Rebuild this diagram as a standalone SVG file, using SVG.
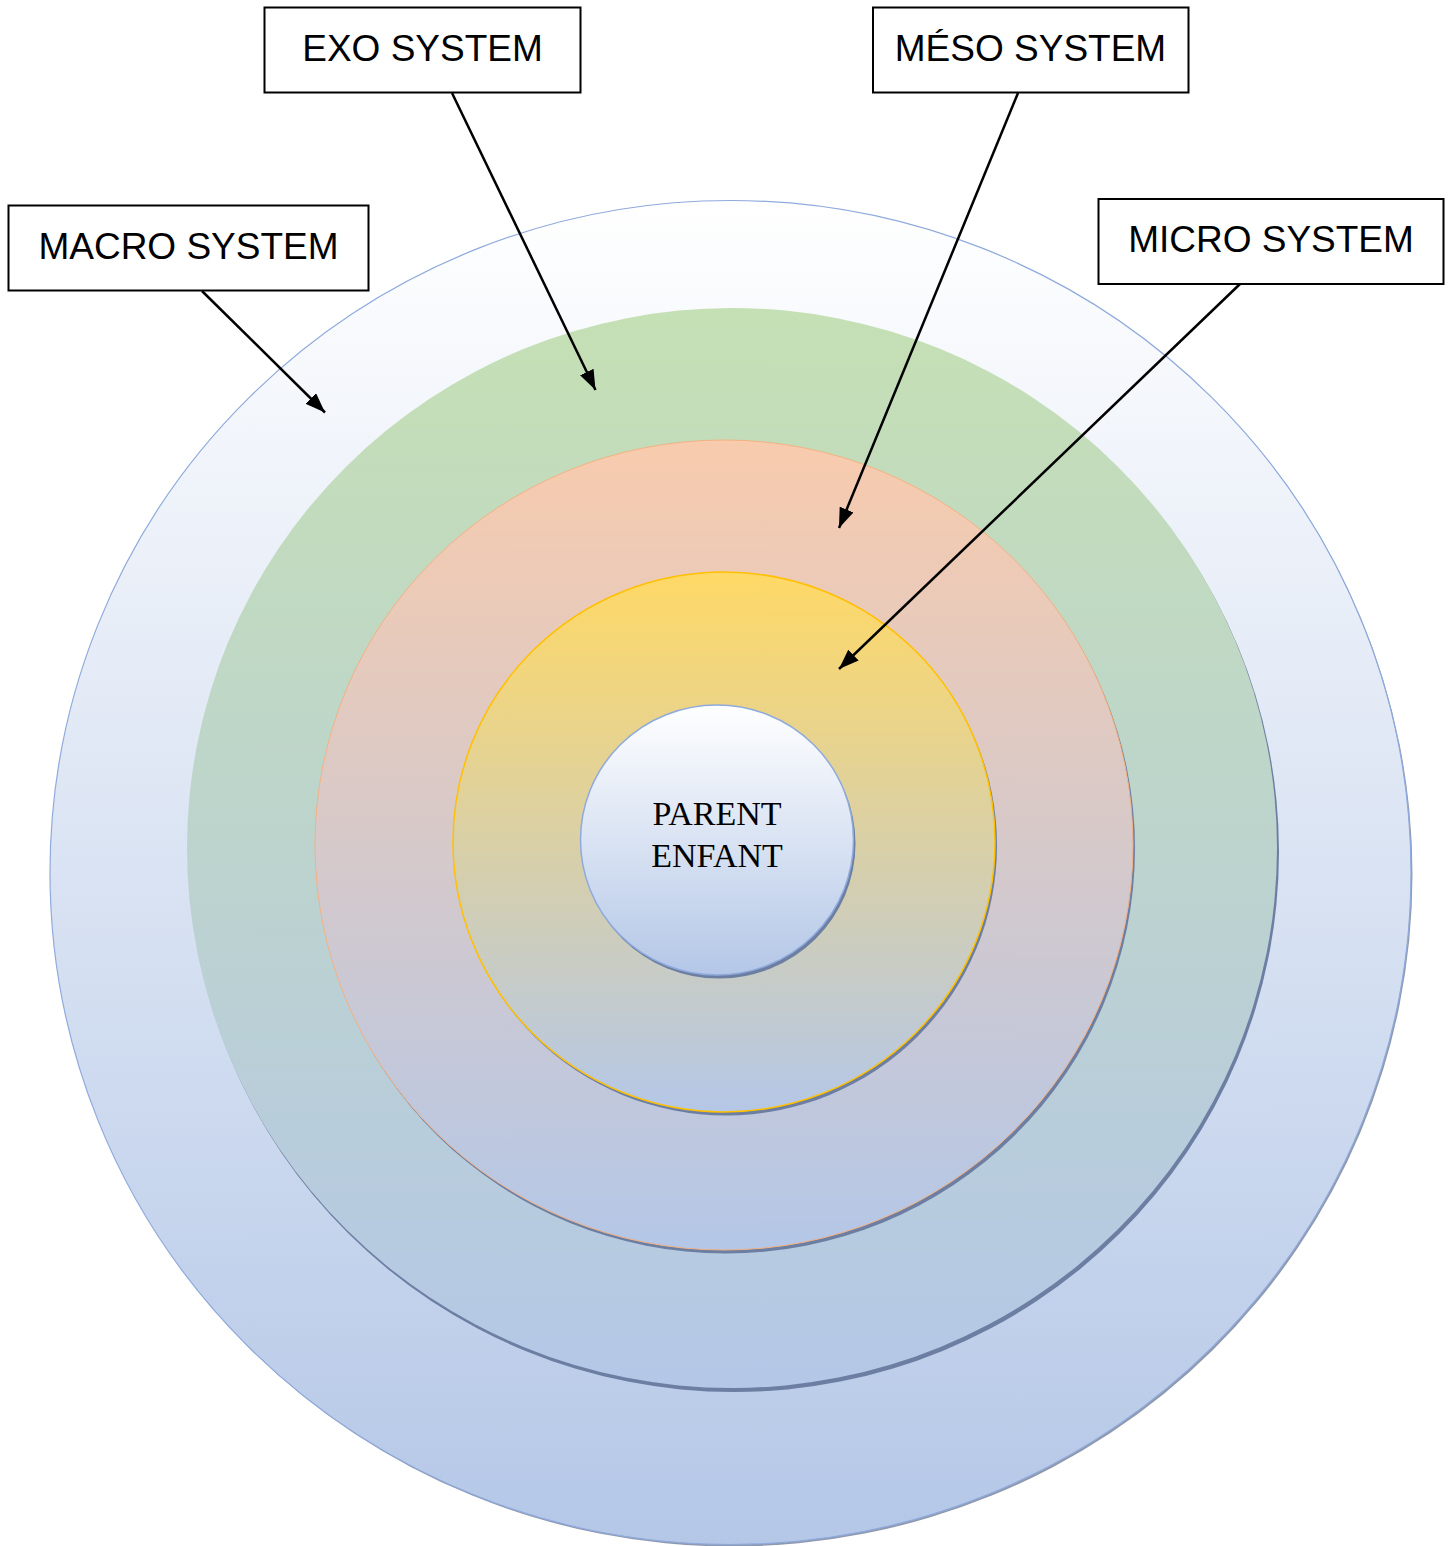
<svg xmlns="http://www.w3.org/2000/svg" width="1453" height="1546" viewBox="0 0 1453 1546">
<defs>
<linearGradient id="gOuter" x1="0" y1="0" x2="0" y2="1"><stop offset="0" stop-color="#FFFFFF"/><stop offset="1" stop-color="#B4C7E7"/></linearGradient>
<linearGradient id="gGreen" x1="0" y1="0" x2="0" y2="1"><stop offset="0" stop-color="#C5E0B4"/><stop offset="1" stop-color="#B4C7E7"/></linearGradient>
<linearGradient id="gOrange" x1="0" y1="0" x2="0" y2="1"><stop offset="0" stop-color="#F8CBAD"/><stop offset="1" stop-color="#B4C7E7"/></linearGradient>
<linearGradient id="gYellow" x1="0" y1="0" x2="0" y2="1"><stop offset="0" stop-color="#FFD966"/><stop offset="1" stop-color="#B4C7E7"/></linearGradient>
<linearGradient id="gInner" x1="0" y1="0" x2="0" y2="1"><stop offset="0" stop-color="#FFFFFF"/><stop offset="1" stop-color="#B4C7E7"/></linearGradient>
<marker id="arrowBig" viewBox="0 0 20 15" refX="20" refY="7.5" markerWidth="20" markerHeight="15" markerUnits="userSpaceOnUse" orient="auto">
<path d="M0,0 L20,7.5 L0,15 z" fill="#000"/>
</marker>
</defs>
<style>
.shadow{fill:#6C7EA2}
.box{fill:#FFFFFF;stroke:#000;stroke-width:2}
.lbl{font-family:"Liberation Sans",Arial,sans-serif;font-size:37px;fill:#000;text-anchor:middle}
.conn{stroke:#000;stroke-width:2.5;fill:none;marker-end:url(#arrowBig)}
.center{font-family:"Liberation Serif","Times New Roman",serif;font-size:34px;fill:#000;text-anchor:middle}
</style>

<g id="macro-ring">
<ellipse cx="732" cy="874.5" rx="680.5" ry="672" fill="#8F99AE"/>
<ellipse cx="730.5" cy="872.5" rx="680.5" ry="672" fill="url(#gOuter)" stroke="#8FAADC" stroke-width="1.2"/>
</g>
<g id="exo-ring">
<ellipse class="shadow" cx="734" cy="852" rx="545" ry="540"/>
<ellipse cx="732" cy="848" rx="545" ry="540" fill="url(#gGreen)"/>
</g>
<g id="meso-ring">
<ellipse class="shadow" cx="726" cy="848.5" rx="409" ry="405"/>
<ellipse cx="724" cy="845" rx="409" ry="405" fill="url(#gOrange)" stroke="#F4B183" stroke-width="1"/>
</g>
<g id="micro-ring">
<ellipse class="shadow" cx="726" cy="845.5" rx="271" ry="270"/>
<ellipse cx="724" cy="842" rx="271" ry="270" fill="url(#gYellow)" stroke="#FFC000" stroke-width="1.5"/>
</g>
<g id="parent-enfant">
<ellipse class="shadow" cx="719" cy="843.5" rx="136.5" ry="135"/>
<ellipse cx="717" cy="840" rx="136.5" ry="135" fill="url(#gInner)" stroke="#8FAADC" stroke-width="1.5"/>
<text class="center" x="717" y="825">PARENT</text>
<text class="center" x="717" y="867">ENFANT</text>
</g>

<g id="connectors">
<line class="conn" x1="202" y1="291" x2="325" y2="412.5"/>
<line class="conn" x1="452" y1="93" x2="595.5" y2="390"/>
<line class="conn" x1="1018" y1="93" x2="839" y2="528"/>
<line class="conn" x1="1240" y1="284" x2="839" y2="669"/>
</g>

<g id="label-macro">
<rect class="box" x="8.5" y="205.5" width="360" height="85"/>
<text class="lbl" x="188.5" y="259">MACRO SYSTEM</text>
</g>
<g id="label-exo">
<rect class="box" x="264.5" y="7.5" width="316" height="85"/>
<text class="lbl" x="422.5" y="61">EXO SYSTEM</text>
</g>
<g id="label-meso">
<rect class="box" x="873" y="7.5" width="315.5" height="85"/>
<text class="lbl" x="1030.5" y="61">MÉSO SYSTEM</text>
</g>
<g id="label-micro">
<rect class="box" x="1098.5" y="199" width="345" height="85"/>
<text class="lbl" x="1271" y="252">MICRO SYSTEM</text>
</g>
</svg>
